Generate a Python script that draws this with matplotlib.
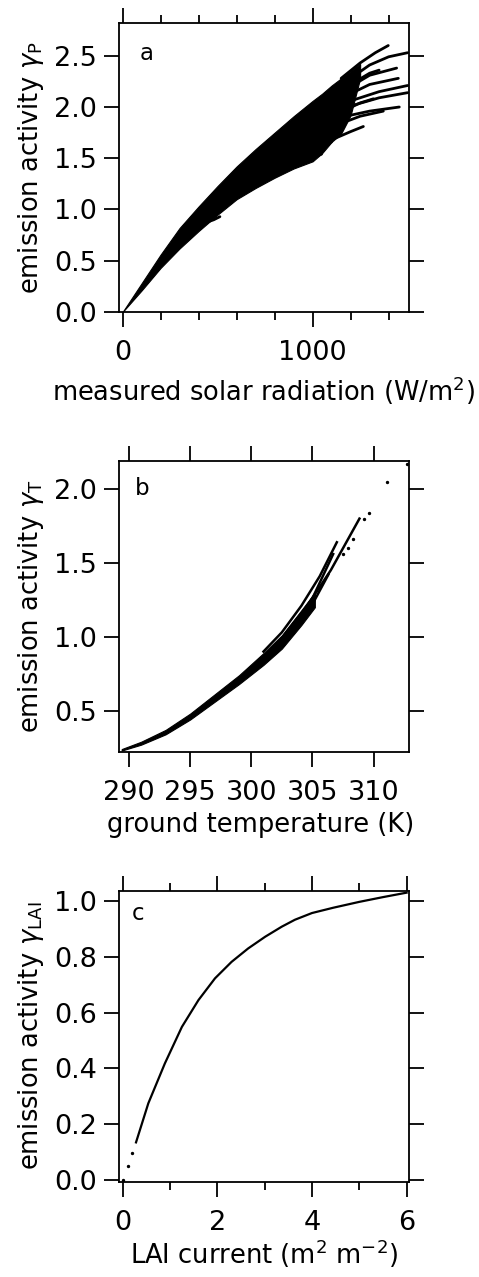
import matplotlib.pyplot as plt
from matplotlib.ticker import MultipleLocator

plt.rcParams['font.family'] = 'DejaVu Sans'
plt.rcParams['mathtext.fontset'] = 'dejavusans'

# --- panel a: light response (envelope of the dense cloud + fanning lines) ---
rad_env = [0, 100, 200, 300, 400, 500, 600, 700, 800, 900, 1000, 1050, 1100, 1150, 1200, 1250]
gp_upper = [0, 0.28, 0.56, 0.82, 1.03, 1.23, 1.42, 1.59, 1.75, 1.91, 2.06, 2.13, 2.21, 2.28, 2.35, 2.42]
gp_lower = [0, 0.21, 0.43, 0.62, 0.79, 0.95, 1.10, 1.21, 1.31, 1.40, 1.47, 1.55, 1.66, 1.74, 1.92, 2.28]

fan_rad = [
    [1150, 1250, 1330, 1398],
    [1200, 1300, 1400, 1500],
    [1200, 1300, 1442],
    [1200, 1300, 1451],
    [1200, 1350, 1500],
    [1200, 1350, 1500],
    [1150, 1300, 1456],
    [1150, 1250, 1372],
    [1100, 1200, 1267],
    [1150, 1250, 1320],
    [1200, 1300, 1350],
    [950, 1030, 1100],
    [900, 980, 1047],
    [420, 480, 512],
]
fan_gp = [
    [2.28, 2.43, 2.53, 2.60],
    [2.28, 2.41, 2.49, 2.53],
    [2.20, 2.31, 2.38],
    [2.13, 2.22, 2.28],
    [2.06, 2.15, 2.21],
    [2.01, 2.09, 2.14],
    [1.90, 1.96, 2.00],
    [1.84, 1.91, 1.96],
    [1.68, 1.76, 1.81],
    [1.95, 2.04, 2.08],
    [2.22, 2.33, 2.36],
    [1.50, 1.60, 1.66],
    [1.43, 1.50, 1.54],
    [0.86, 0.90, 0.93],
]

# --- panel b: temperature response ---
temp_env = [289.4, 291.0, 293.0, 295.0, 297.0, 299.0, 301.0, 302.5, 304.1, 305.2]
gt_upper = [0.24, 0.29, 0.37, 0.48, 0.61, 0.74, 0.89, 1.01, 1.18, 1.30]
gt_lower = [0.23, 0.27, 0.34, 0.44, 0.56, 0.68, 0.81, 0.92, 1.08, 1.20]

line_temp = [
    [301.0, 302.5, 304.1, 305.6, 307.0],
    [302.5, 304.5, 306.5, 308.85],
    [303.0, 305.0, 306.7],
    [303.0, 305.0, 306.3],
]
line_gt = [
    [0.90, 1.03, 1.21, 1.41, 1.64],
    [0.99, 1.20, 1.45, 1.80],
    [1.02, 1.26, 1.56],
    [1.00, 1.22, 1.42],
]
dot_temp = [307.5, 307.9, 308.3, 309.2, 309.6, 311.1, 312.7]
dot_gt = [1.56, 1.60, 1.66, 1.80, 1.84, 2.045, 2.17]

# --- panel c: LAI response ---
lai_vals = [0.28, 0.54, 0.89, 1.25, 1.60, 1.95, 2.30, 2.65, 3.01, 3.36, 3.64, 4.0, 4.45, 5.0, 5.5, 6.0]
glai_vals = [0.135, 0.275, 0.418, 0.549, 0.645, 0.723, 0.782, 0.830, 0.872, 0.908, 0.933,
             0.957, 0.976, 0.997, 1.014, 1.03]
lai_dots = [0.0, 0.105, 0.19]
glai_dots = [0.0, 0.05, 0.096]

fig = plt.figure(figsize=(4.79, 12.77), dpi=100)
ax_a = fig.add_axes([0.2484, 0.7557, 0.6054, 0.2263])
ax_b = fig.add_axes([0.2484, 0.4111, 0.6054, 0.2279])
ax_c = fig.add_axes([0.2484, 0.0746, 0.6054, 0.2279])

TICK_FS = 19.5
LABEL_FS = 18.5
LETTER_FS = 16.5


def style(ax):
    for s in ax.spines.values():
        s.set_linewidth(1.3)
    ax.tick_params(which='both', direction='out', top=True, right=True,
                   labeltop=False, labelright=False, width=1.3,
                   labelsize=TICK_FS)
    ax.tick_params(which='major', length=11)
    ax.tick_params(which='minor', length=6)
    ax.tick_params(axis='x', which='major', pad=9)
    ax.tick_params(axis='y', which='major', pad=5)


# panel a
ax_a.fill_between(rad_env, gp_lower, gp_upper, color='black', lw=0.8)
for xs, ys in zip(fan_rad, fan_gp):
    ax_a.plot(xs, ys, color='black', lw=2.0, solid_capstyle='round')
ax_a.set_xlim(-19, 1507)
ax_a.set_ylim(0, 2.82)
ax_a.xaxis.set_major_locator(MultipleLocator(1000))
ax_a.xaxis.set_minor_locator(MultipleLocator(200))
ax_a.yaxis.set_major_locator(MultipleLocator(0.5))
ax_a.yaxis.set_major_formatter('{x:.1f}')
style(ax_a)
ax_a.set_xlabel('measured solar radiation (W/m$^{2}$)', fontsize=LABEL_FS)
ax_a.set_ylabel(r'emission activity $\gamma_{\mathrm{P}}$', fontsize=LABEL_FS)
ax_a.text(0.072, 0.935, 'a', transform=ax_a.transAxes, fontsize=LETTER_FS, va='top')

# panel b
ax_b.fill_between(temp_env, gt_lower, gt_upper, color='black', lw=0.8)
for xs, ys in zip(line_temp, line_gt):
    ax_b.plot(xs, ys, color='black', lw=1.8)
ax_b.scatter(dot_temp, dot_gt, s=2, color='black')
ax_b.set_xlim(289.18, 312.9)
ax_b.set_ylim(0.22, 2.19)
ax_b.xaxis.set_major_locator(MultipleLocator(5))
ax_b.yaxis.set_major_locator(MultipleLocator(0.5))
ax_b.yaxis.set_major_formatter('{x:.1f}')
style(ax_b)
ax_b.set_xlabel('ground temperature (K)', fontsize=LABEL_FS)
ax_b.set_ylabel(r'emission activity $\gamma_{\mathrm{T}}$', fontsize=LABEL_FS)
ax_b.text(0.055, 0.945, 'b', transform=ax_b.transAxes, fontsize=LETTER_FS, va='top')

# panel c
ax_c.plot(lai_vals, glai_vals, color='black', lw=1.6)
ax_c.scatter(lai_dots, glai_dots, s=2, color='black')
ax_c.set_xlim(-0.08, 6.05)
ax_c.set_ylim(-0.006, 1.037)
ax_c.xaxis.set_major_locator(MultipleLocator(2))
ax_c.xaxis.set_minor_locator(MultipleLocator(1))
ax_c.yaxis.set_major_locator(MultipleLocator(0.2))
ax_c.yaxis.set_major_formatter('{x:.1f}')
style(ax_c)
ax_c.set_xlabel('LAI current (m$^{2}$ m$^{-2}$)', fontsize=LABEL_FS)
ax_c.set_ylabel(r'emission activity $\gamma_{\mathrm{LAI}}$', fontsize=LABEL_FS)
ax_c.text(0.045, 0.96, 'c', transform=ax_c.transAxes, fontsize=LETTER_FS, va='top')

for ax in (ax_a, ax_b, ax_c):
    ax.yaxis.set_label_coords(-0.25, 0.5)

ax_a.xaxis.set_label_coords(0.5, -0.215)
ax_b.xaxis.set_label_coords(0.49, -0.205)
ax_c.xaxis.set_label_coords(0.5, -0.19)

fig.savefig('out.png', dpi=100, facecolor='white')
